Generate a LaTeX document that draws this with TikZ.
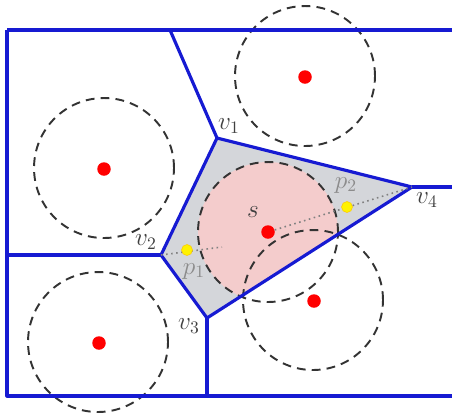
\documentclass[tikz,border=0pt]{standalone}
\usepackage{amsmath,amssymb}
\usepackage{xcolor}
\usepackage{tikz}
\usetikzlibrary{positioning}

\definecolor{edgeblue}{RGB}{22,26,210}
\definecolor{cellgray}{RGB}{212,214,218}
\definecolor{rangepink}{RGB}{244,204,204}

\begin{document}
\begin{tikzpicture}[x=0.02cm,y=-0.02cm,
    voredge/.style={edgeblue, line width=1.8pt, line join=round},
    reach/.style={black!80, line width=1.1pt, dash pattern=on 5pt off 3.5pt},
    site/.style={circle, fill=red, inner sep=0pt, minimum size=0.27cm},
    probe/.style={circle, fill=yellow, draw=yellow!60!orange, line width=0.3pt, inner sep=0pt, minimum size=0.22cm},
    lab/.style={font=\Large, text=black!75},
    plab/.style={font=\Large, text=black!45}]
    \useasboundingbox (0,0) rectangle (452,414);

    % frame and cell vertices
    \coordinate (tl) at (7,30);
    \coordinate (tr) at (452,30);
    \coordinate (bl) at (7,396);
    \coordinate (br) at (452,396);
    \coordinate (v1) at (217,138);
    \coordinate (v2) at (161,255);
    \coordinate (v3) at (207,318);
    \coordinate (v4) at (412,187);
    \coordinate (e1) at (170,30);
    \coordinate (e2) at (7,255);
    \coordinate (e3) at (207,396);
    \coordinate (e4) at (452,187);
    \coordinate (q1) at (222,247);

    % cell of s and its range
    \fill[cellgray] (v1) -- (v4) -- (v3) -- (v2) -- cycle;
    \begin{scope}
        \clip (v1) -- (v4) -- (v3) -- (v2) -- cycle;
        \fill[rangepink] (268,232) circle[radius=1.4cm];
    \end{scope}

    \foreach \pos in {{305,76}, {104,168}, {268,232}, {313,300}, {98,342}} {
        \draw[reach] (\pos) circle[radius=1.4cm];
    }

    % voronoi edges
    \draw[voredge] (tl) -- (tr);
    \draw[voredge] (tl) -- (bl) -- (br);
    \draw[voredge] (v1) -- (e1);
    \draw[voredge] (v2) -- (e2);
    \draw[voredge] (v3) -- (e3);
    \draw[voredge] (v4) -- (e4);
    \draw[voredge] (v1) -- (v4) -- (v3) -- (v2) -- cycle;

    \foreach \name/\pos in {a/{305,77}, b/{104,169}, s/{268,232}, c/{314,301}, d/{99,343}} {
        \node[site] (site-\name) at (\pos) {};
    }

    \draw[dotted, black!50, line width=0.9pt] (v2) -- (q1);
    \draw[dotted, black!50, line width=0.9pt] (site-s) -- (v4);
    \node[probe] (p1) at (187,250) {};
    \node[probe] (p2) at (347,207) {};

    \node[lab] (lv1) at (229,126) {$v_1$};
    \node[lab] (lv2) at (146,242) {$v_2$};
    \node[lab] (lv3) at (189,326) {$v_3$};
    \node[lab] (lv4) at (427,200) {$v_4$};
    \node[lab] (ls) at (253,212) {$s$};
    \node[plab] (lp1) at (194,271) {$p_1$};
    \node[plab] (lp2) at (346,185) {$p_2$};
\end{tikzpicture}
\end{document}
